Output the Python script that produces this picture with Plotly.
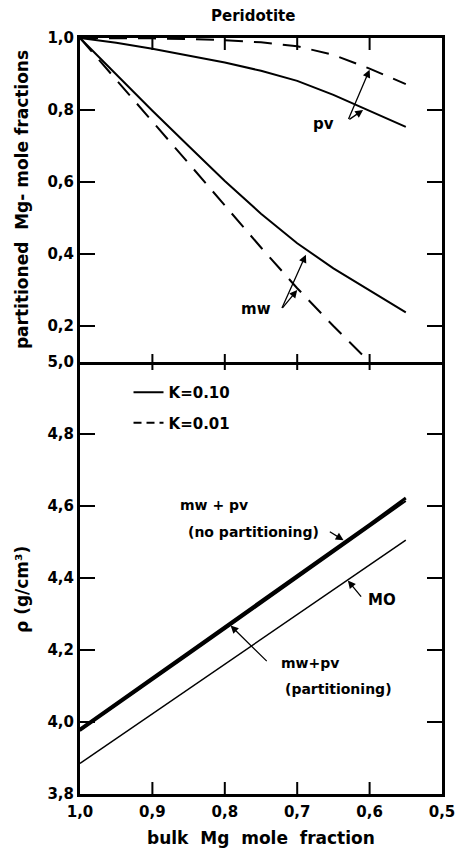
import plotly.graph_objects as go

# ---------------- data ----------------
x_up = [1.0, 0.95, 0.9, 0.85, 0.8, 0.75, 0.7, 0.65, 0.6, 0.55]
pv_k010 = [1.0, 0.987, 0.970, 0.952, 0.932, 0.909, 0.881, 0.842, 0.797, 0.753]
pv_k001 = [1.0, 1.0, 0.999, 0.997, 0.994, 0.988, 0.977, 0.953, 0.915, 0.872]
mw_k010 = [1.0, 0.898, 0.798, 0.700, 0.603, 0.512, 0.430, 0.360, 0.298, 0.238]
x_mw_k001 = [1.0, 0.95, 0.9, 0.85, 0.8, 0.75, 0.7, 0.65, 0.6]
mw_k001 = [1.0, 0.885, 0.770, 0.652, 0.535, 0.418, 0.305, 0.200, 0.100]

x_lo = [1.0, 0.95, 0.9, 0.85, 0.8, 0.75, 0.7, 0.65, 0.6, 0.55]
rho_nopart = [3.980, 4.050, 4.122, 4.193, 4.264, 4.336, 4.407, 4.478, 4.549, 4.622]
rho_part_k010 = [3.975, 4.045, 4.116, 4.187, 4.258, 4.329, 4.400, 4.471, 4.542, 4.614]
rho_part_k001 = [3.977, 4.047, 4.118, 4.189, 4.260, 4.332, 4.403, 4.474, 4.545, 4.617]
rho_mo = [3.885, 3.954, 4.023, 4.092, 4.161, 4.230, 4.299, 4.367, 4.436, 4.505]

x_ticks = [1.0, 0.9, 0.8, 0.7, 0.6, 0.5]
x_ticktext = ["1,0", "0,9", "0,8", "0,7", "0,6", "0,5"]
x_inner_ticks = [0.9, 0.8, 0.7, 0.6]
y_up_ticks = [0.2, 0.4, 0.6, 0.8, 1.0]
y_up_ticktext = ["0,2", "0,4", "0,6", "0,8", "1,0"]
y_up_inner_ticks = [0.2, 0.4, 0.6, 0.8]
y_lo_ticks = [3.8, 4.0, 4.2, 4.4, 4.6, 4.8, 5.0]
y_lo_ticktext = ["3,8", "4,0", "4,2", "4,4", "4,6", "4,8", "5,0"]
y_lo_inner_ticks = [4.0, 4.2, 4.4, 4.6, 4.8]

X_RANGE = [1.0, 0.5]
Y_UP_RANGE = [0.1, 1.0]
Y_LO_RANGE = [3.8, 5.0]

FONT = "DejaVu Sans"
BLACK = "#000000"
DASH = "18px,11px"

fig = go.Figure()

fig.add_trace(go.Scatter(x=x_up, y=pv_k010, mode="lines", name="K=0.10",
                         line=dict(color=BLACK, width=2), xaxis="x", yaxis="y",
                         legendgroup="a"))
fig.add_trace(go.Scatter(x=[None], y=[None], mode="lines", name="K=0.01",
                         line=dict(color=BLACK, width=2, dash="8px,5px"), xaxis="x", yaxis="y",
                         legendgroup="b"))
fig.add_trace(go.Scatter(x=x_up, y=pv_k001, mode="lines", name="pv K=0.01",
                         line=dict(color=BLACK, width=2, dash=DASH), xaxis="x", yaxis="y",
                         showlegend=False))
fig.add_trace(go.Scatter(x=x_up, y=mw_k010, mode="lines", name="mw K=0.10",
                         line=dict(color=BLACK, width=2), xaxis="x", yaxis="y",
                         showlegend=False))
fig.add_trace(go.Scatter(x=x_mw_k001, y=mw_k001, mode="lines", name="mw K=0.01",
                         line=dict(color=BLACK, width=2, dash=DASH), xaxis="x", yaxis="y",
                         showlegend=False))

fig.add_trace(go.Scatter(x=x_lo, y=rho_nopart, mode="lines", name="no partitioning",
                         line=dict(color=BLACK, width=3), xaxis="x2", yaxis="y2",
                         showlegend=False))
fig.add_trace(go.Scatter(x=x_lo, y=rho_part_k010, mode="lines", name="partitioning K=0.10",
                         line=dict(color=BLACK, width=2), xaxis="x2", yaxis="y2",
                         showlegend=False))
fig.add_trace(go.Scatter(x=x_lo, y=rho_part_k001, mode="lines", name="partitioning K=0.01",
                         line=dict(color=BLACK, width=2, dash=DASH), xaxis="x2", yaxis="y2",
                         showlegend=False))
fig.add_trace(go.Scatter(x=x_lo, y=rho_mo, mode="lines", name="MO",
                         line=dict(color=BLACK, width=1.5), xaxis="x2", yaxis="y2",
                         showlegend=False))

split = 432 / 756
PLOT_W, UP_H, LO_H = 362.0, 324.0, 432.0   # plot-area sizes in px (for tick lengths)
tickfont = dict(family=FONT, size=15, color=BLACK, weight="bold")
base = dict(showgrid=False, zeroline=False, ticks="", showline=True,
            linewidth=3, linecolor=BLACK)

fig.update_layout(
    template="none",
    width=456, height=848,
    margin=dict(l=80, r=14, t=38, b=54),
    showlegend=True,
    font=dict(family=FONT, color=BLACK, weight="bold"),
    legend=dict(x=0.134, y=0.553, xanchor="left", yanchor="top",
                tracegroupgap=8, traceorder="grouped",
                font=dict(family=FONT, size=15, color=BLACK, weight="bold")),
    xaxis=dict(**base, domain=[0, 1], anchor="y", range=X_RANGE, mirror=True,
               tickmode="array", tickvals=x_ticks, showticklabels=False),
    xaxis2=dict(**base, domain=[0, 1], anchor="y2", range=X_RANGE, mirror=False,
                tickmode="array", tickvals=x_ticks, ticktext=x_ticktext, tickfont=tickfont,
                ticklabelstandoff=2),
    yaxis=dict(**base, domain=[split, 1.0], anchor="x", range=Y_UP_RANGE, mirror=True,
               tickmode="array", tickvals=y_up_ticks, ticktext=y_up_ticktext,
               tickfont=tickfont),
    yaxis2=dict(**base, domain=[0.0, split], anchor="x2", range=Y_LO_RANGE, mirror=True,
                tickmode="array", tickvals=y_lo_ticks, ticktext=y_lo_ticktext,
                tickfont=tickfont),
)

# inward tick marks at the tick values
tick_line = dict(color=BLACK, width=2)
shapes = []
for xr, yr, vals in (("x domain", "y", y_up_inner_ticks), ("x2 domain", "y2", y_lo_inner_ticks)):
    for v in vals:
        shapes.append(dict(type="line", xref=xr, yref=yr, x0=0, x1=15 / PLOT_W,
                           y0=v, y1=v, line=tick_line))
        shapes.append(dict(type="line", xref=xr, yref=yr, x0=1, x1=1 - 15 / PLOT_W,
                           y0=v, y1=v, line=tick_line))
for v in x_inner_ticks:
    shapes.append(dict(type="line", xref="x", yref="y domain", x0=v, x1=v,
                       y0=1, y1=1 - 12 / UP_H, line=tick_line))
    shapes.append(dict(type="line", xref="x", yref="y domain", x0=v, x1=v,
                       y0=-8 / UP_H, y1=8 / UP_H, line=tick_line))
    shapes.append(dict(type="line", xref="x2", yref="y2 domain", x0=v, x1=v,
                       y0=0, y1=12 / LO_H, line=tick_line))
fig.update_layout(shapes=shapes)

ann = []
def txt(x, y, t, xref, yref, size=15, **kw):
    ann.append(dict(x=x, y=y, text=t, xref=xref, yref=yref, showarrow=False,
                    font=dict(family=FONT, size=size, color=BLACK, weight="bold"), **kw))

def arrow(x, y, ax, ay, xref, yref, head=2):
    ann.append(dict(x=x, y=y, ax=ax, ay=ay, xref=xref, yref=yref, axref=xref, ayref=yref,
                    text="", showarrow=True, arrowhead=head, arrowsize=1.2, arrowwidth=1.3,
                    arrowcolor=BLACK, standoff=0, startstandoff=0))

txt(0.478, 1.0, "Peridotite", "paper", "paper", size=15, yanchor="bottom", yshift=11,
    xanchor="center")
txt(-0.16, (split + 1.0) / 2, "partitioned  Mg- mole fractions", "paper", "paper",
    size=17, textangle=-90, xanchor="center", yanchor="middle")
txt(-0.16, 0.27, "ρ (g/cm³)", "paper", "paper", size=17, textangle=-90,
    xanchor="center", yanchor="middle")
txt(0.5, 0, "bulk  Mg  mole  fraction", "paper", "paper", size=17, yanchor="top",
    yshift=-32, xanchor="center")

txt(0.664, 0.762, "pv", "x", "y")
arrow(0.600, 0.912, 0.630, 0.771, "x", "y")
arrow(0.609, 0.800, 0.630, 0.771, "x", "y")
txt(0.757, 0.246, "mw", "x", "y")
arrow(0.688, 0.398, 0.722, 0.246, "x", "y")
arrow(0.700, 0.300, 0.722, 0.246, "x", "y")

txt(0.815, 4.603, "mw + pv", "x2", "y2", size=14)
txt(0.760, 4.528, "(no partitioning)", "x2", "y2", size=14)
arrow(0.636, 4.505, 0.657, 4.531, "x2", "y2")
txt(0.583, 4.339, "MO", "x2", "y2")
arrow(0.630, 4.393, 0.610, 4.344, "x2", "y2")
txt(0.683, 4.164, "mw+pv", "x2", "y2", size=14)
txt(0.643, 4.092, "(partitioning)", "x2", "y2", size=14)
arrow(0.792, 4.268, 0.740, 4.165, "x2", "y2")

fig.update_layout(annotations=ann)

fig.write_html("out.html")
